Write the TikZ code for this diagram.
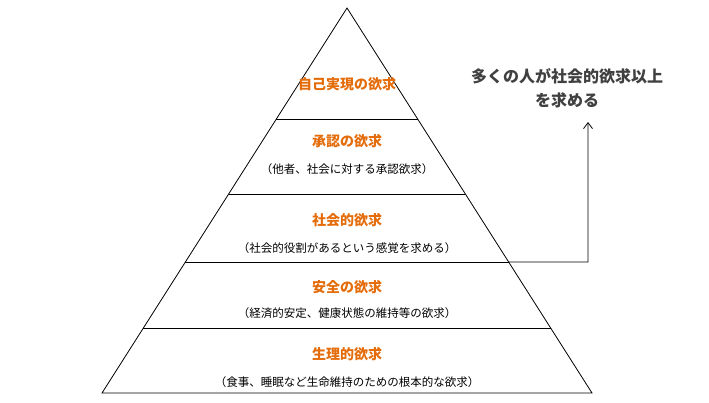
\documentclass[tikz,border=0pt]{standalone}
\usepackage{fontspec}
\setmainfont{Noto Sans CJK JP}
\usetikzlibrary{calc,arrows.meta}
\definecolor{levelorange}{RGB}{228,108,10}
\definecolor{notegray}{RGB}{64,64,64}

\begin{document}
\begin{tikzpicture}[x=1pt,y=-1pt,
	every node/.style={align=center,inner sep=0pt},
	level/.style={text=levelorange,font=\fontsize{14}{16}\selectfont\bfseries},
	detail/.style={font=\fontsize{11.5}{13}\selectfont},
	note/.style={text=notegray,font=\fontsize{16}{24}\selectfont\bfseries}
	]
	\useasboundingbox (0,0) rectangle (709,402);
	% pyramid outline
	\coordinate (apex) at (347,8);
	\coordinate (baseL) at (102,393);
	\coordinate (baseR) at (592,393);
	\draw[thick] (apex) -- (baseL) -- (baseR) -- cycle;
	% level borders
	\foreach \yy/\nm in {119/a,194/b,262/c,328/d}{
		\draw[thick] ($(apex)!{(\yy-8)/385}!(baseL)$) -- ($(apex)!{(\yy-8)/385}!(baseR)$);
		\coordinate (edge\nm) at ($(apex)!{(\yy-8)/385}!(baseR)$);
	}
	% texts
	\node[level] (L5) at (347,84) {自己実現の欲求};
	\node[level] (L4) at (347,141) {承認の欲求};
	\node[detail] (D4) at (347,169) {（他者、社会に対する承認欲求）};
	\node[level] (L3) at (347,220) {社会的欲求};
	\node[detail] (D3) at (347,248) {（社会的役割があるという感覚を求める）};
	\node[level] (L2) at (347,287) {安全の欲求};
	\node[detail] (D2) at (347,313) {（経済的安定、健康状態の維持等の欲求）};
	\node[level] (L1) at (347,354) {生理的欲求};
	\node[detail] (D1) at (347,382) {（食事、睡眠など生命維持のための根本的な欲求）};
	\node[note] (note) at (567,88) {多くの人が社会的欲求以上\\を求める};
	% arrow
	\draw[thick,-{Straight Barb[length=6pt,width=9pt]}] (edgec) -- (588,262) -- (588,122);
\end{tikzpicture}
\end{document}
